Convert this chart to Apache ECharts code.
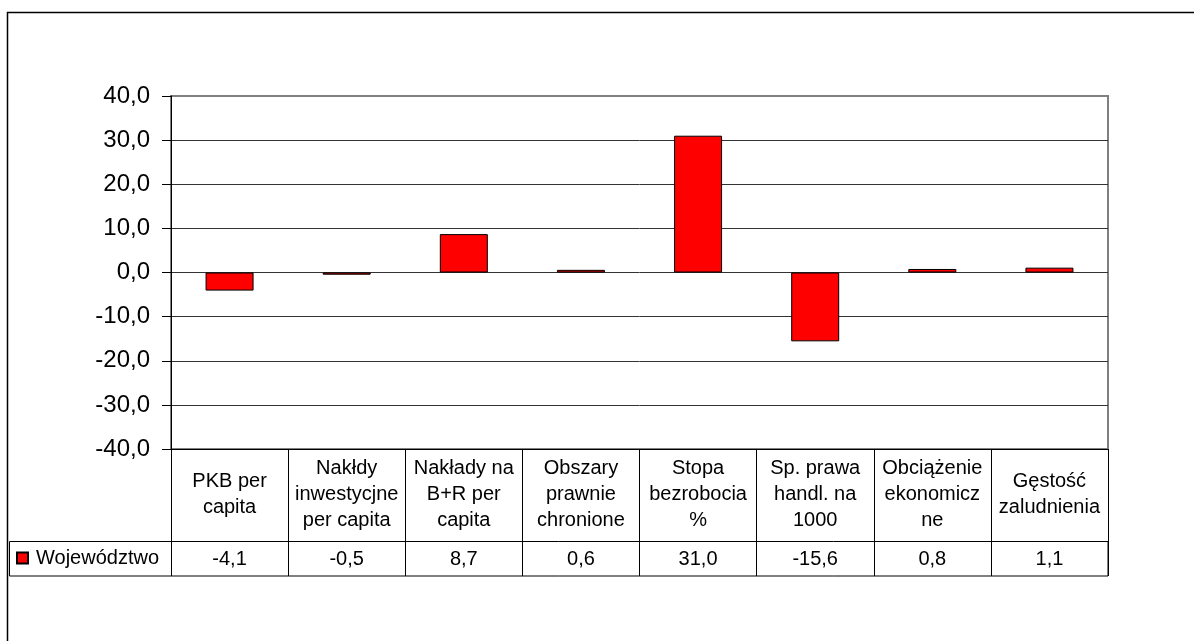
<!DOCTYPE html>
<html><head><meta charset="utf-8">
<script src="https://cdn.jsdelivr.net/npm/echarts@6/dist/echarts.min.js"></script>
<style>html,body{margin:0;padding:0;background:#fff}#c{width:1194px;height:641px}</style>
</head><body><div id="c"></div>
<script>
const categories = [
  'PKB per\ncapita',
  'Nakłdy\ninwestycjne\nper capita',
  'Nakłady na\nB+R per\ncapita',
  'Obszary\nprawnie\nchronione',
  'Stopa\nbezrobocia\n%',
  'Sp. prawa\nhandl. na\n1000',
  'Obciążenie\nekonomicz\nne',
  'Gęstość\nzaludnienia'
];
const seriesName = 'Województwo';
const values = [-4.1, -0.5, 8.7, 0.6, 31.0, -15.6, 0.8, 1.1];
const yMin = -40, yMax = 40, yStep = 10;

const fmt = v => v.toFixed(1).replace('.', ',');
const FONT = '"Liberation Sans", Arial, sans-serif';
const chart = echarts.init(document.getElementById('c'), null, {renderer: 'canvas'});
chart.setOption({
  animation: false,
  backgroundColor: '#fff',
  textStyle: {fontFamily: FONT},
  grid: {left: 171, top: 96, width: 937, height: 353, show: true,
         borderColor: '#808080', borderWidth: 2, backgroundColor: 'transparent', containLabel: false},
  legend: {
    data: [seriesName], left: 16, top: 548, padding: 0,
    icon: 'rect', itemWidth: 11, itemHeight: 11,
    textStyle: {fontSize: 20, color: '#000', fontFamily: FONT, padding: [0, 0, 0, 3]}
  },
  xAxis: [
    {type: 'category', data: categories, position: 'bottom',
     axisLine: {onZero: false, lineStyle: {color: '#000', width: 1}},
     axisTick: {show: true, length: 127, lineStyle: {color: '#000', width: 1}},
     axisLabel: {interval: 0, margin: 45, verticalAlign: 'middle', fontSize: 20, lineHeight: 26,
                 color: '#000', fontFamily: FONT},
     splitLine: {show: false}},
    {type: 'category', data: values.map(fmt), position: 'bottom',
     axisLine: {show: false}, axisTick: {show: false},
     axisLabel: {interval: 0, margin: 110, verticalAlign: 'middle', fontSize: 20,
                 color: '#000', fontFamily: FONT},
     splitLine: {show: false}}
  ],
  yAxis: {
    type: 'value', min: yMin, max: yMax, interval: yStep,
    axisLine: {show: true, lineStyle: {color: '#000', width: 1}},
    axisTick: {show: true, length: 9, lineStyle: {color: '#000'}},
    axisLabel: {margin: 21, fontSize: 24, color: '#000', fontFamily: FONT, formatter: fmt},
    splitLine: {show: true, showMaxLine: false, lineStyle: {color: '#333', width: 1}}
  },
  series: [{
    type: 'bar', name: seriesName, data: values, xAxisIndex: 0, barWidth: 48,
    itemStyle: {color: '#ff0000', borderColor: '#000', borderWidth: 1}
  }],
  graphic: [
    {type: 'rect', shape: {x: 7.5, y: 12.5, width: 1300, height: 700},
     style: {fill: 'none', stroke: '#000', lineWidth: 1.5}, z: 100},
    {type: 'rect', shape: {x: 9.5, y: 541.5, width: 1098.5, height: 34.5},
     style: {fill: 'none', stroke: '#000', lineWidth: 1}, z: 100}
  ]
});
</script></body></html>
